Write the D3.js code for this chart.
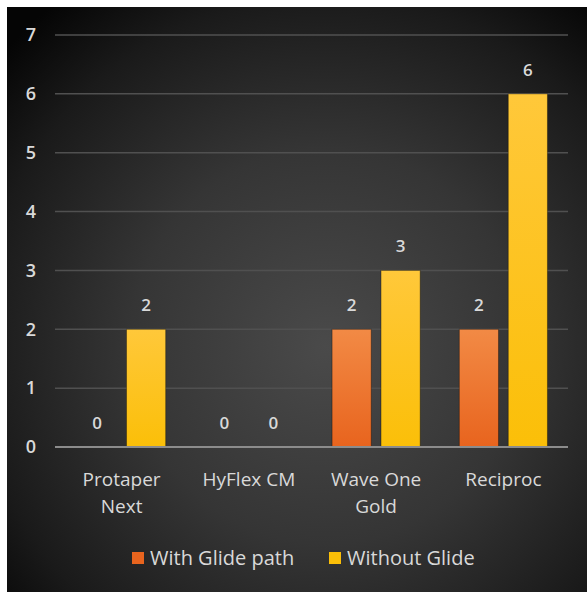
<!DOCTYPE html>
<html>
<head>
<meta charset="utf-8">
<script src="https://cdn.jsdelivr.net/npm/d3@7"></script>
<style>
  body { margin: 0; background: #fff; }
  svg { display: block; }
  text { font-family: "Open Sans", "Noto Sans", sans-serif; fill: #d9d9d9; }
</style>
</head>
<body>
<svg></svg>
<script>
let categories = ['Protaper|Next', 'HyFlex CM', 'Wave One|Gold', 'Reciproc']
let seriesNames = ['With Glide path', 'Without Glide']
let withGlide = [0, 0, 2, 2]
let withoutGlide = [2, 0, 3, 6]
let yTicks = [0, 1, 2, 3, 4, 5, 6, 7]

let width = 587
let height = 592

let svg = d3.select('svg')
            .attr('width', width)
            .attr('height', height)

let defs = svg.append('defs')

let bg = defs.append('radialGradient')
             .attr('id', 'bg')
             .attr('cx', '55%')
             .attr('cy', '58%')
             .attr('r', '75%')
bg.append('stop').attr('offset', '0%').attr('stop-color', '#4a4a4a')
bg.append('stop').attr('offset', '45%').attr('stop-color', '#353535')
bg.append('stop').attr('offset', '80%').attr('stop-color', '#1a1a1a')
bg.append('stop').attr('offset', '100%').attr('stop-color', '#050505')

let colors = [['#f28a45', '#e8641e'], ['#ffc83a', '#fbbf08']]
colors.forEach((c, i) => {
  let g = defs.append('linearGradient')
              .attr('id', 'bar' + i)
              .attr('x1', 0).attr('y1', 0).attr('x2', 0).attr('y2', 1)
  g.append('stop').attr('offset', '0%').attr('stop-color', c[0])
  g.append('stop').attr('offset', '100%').attr('stop-color', c[1])
})

// dark chart area, white strip left and top
svg.append('rect')
   .attr('x', 7)
   .attr('y', 7)
   .attr('width', width - 7)
   .attr('height', height - 7)
   .attr('fill', 'url(#bg)')

let xScale = d3.scaleBand()
               .domain(categories)
               .range([58, 567])

let x1 = d3.scaleBand()
           .domain(seriesNames)
           .range([0, xScale.bandwidth()])
           .paddingInner(0.2)
           .paddingOuter(0.4)

let yScale = d3.scaleLinear()
               .domain([0, 7])
               .range([447, 35])

// gridlines
svg.append('g')
   .selectAll('line')
   .data(yTicks.filter(d => d > 0))
   .enter()
   .append('line')
   .attr('x1', 55)
   .attr('x2', 568)
   .attr('y1', d => yScale(d))
   .attr('y2', d => yScale(d))
   .attr('stroke', '#505050')
   .attr('stroke-width', 1.5)

// y labels
let yAxis = d3.axisLeft(yScale)
              .tickValues(yTicks)
              .tickFormat(d3.format('d'))
              .tickSize(0)
              .tickPadding(0)

svg.append('g')
   .attr('transform', 'translate(36, 0)')
   .call(yAxis)
   .call(g => g.select('.domain').remove())
   .selectAll('text')
   .attr('font-size', 18)
   .attr('font-family', '"Open Sans", sans-serif')
   .attr('fill', '#d9d9d9')
   .style('font-weight', 600)

let rows = categories.map((c, i) => ({ cat: c, values: [withGlide[i], withoutGlide[i]] }))

let groups = svg.append('g')
   .selectAll('g')
   .data(rows)
   .enter()
   .append('g')
   .attr('transform', d => 'translate(' + xScale(d.cat) + ',0)')

groups.selectAll('rect')
   .data(d => d.values.map((v, i) => ({ s: seriesNames[i], i: i, v: v })))
   .enter()
   .append('rect')
   .attr('x', d => x1(d.s))
   .attr('y', d => yScale(d.v))
   .attr('width', x1.bandwidth())
   .attr('height', d => yScale(0) - yScale(d.v))
   .attr('fill', d => 'url(#bar' + d.i + ')')
   .attr('stroke', 'rgba(0,0,0,0.35)')
   .attr('stroke-width', 1)

groups.selectAll('text.val')
   .data(d => d.values.map((v, i) => ({ s: seriesNames[i], v: v })))
   .enter()
   .append('text')
   .attr('class', 'val')
   .attr('x', d => x1(d.s) + x1.bandwidth() / 2)
   .attr('y', d => yScale(d.v) - 18)
   .attr('text-anchor', 'middle')
   .attr('font-size', 17)
   .style('font-weight', 600)
   .text(d => d.v)

// baseline
svg.append('line')
   .attr('x1', 55)
   .attr('x2', 568)
   .attr('y1', yScale(0))
   .attr('y2', yScale(0))
   .attr('stroke', '#8c8c8c')
   .attr('stroke-width', 2)

// category labels
let xLabels = svg.append('g')
   .selectAll('text')
   .data(categories)
   .enter()
   .append('text')
   .attr('x', d => xScale(d) + xScale.bandwidth() / 2)
   .attr('y', 486)
   .attr('text-anchor', 'middle')
   .attr('font-size', 19)

xLabels.selectAll('tspan')
   .data(d => d.split('|'))
   .enter()
   .append('tspan')
   .attr('x', function () { return d3.select(this.parentNode).attr('x') })
   .attr('dy', (d, i) => i === 0 ? 0 : 27)
   .text(d => d)

// legend
let legendX = [132, 329]
let legend = svg.append('g')
   .selectAll('g')
   .data(seriesNames)
   .enter()
   .append('g')
   .attr('transform', (d, i) => 'translate(' + legendX[i] + ',552)')

legend.append('rect')
   .attr('width', 12)
   .attr('height', 12)
   .attr('fill', (d, i) => colors[i][1])

legend.append('text')
   .attr('x', 18)
   .attr('y', 13)
   .attr('font-size', 20)
   .text(d => d)
</script>
</body>
</html>
